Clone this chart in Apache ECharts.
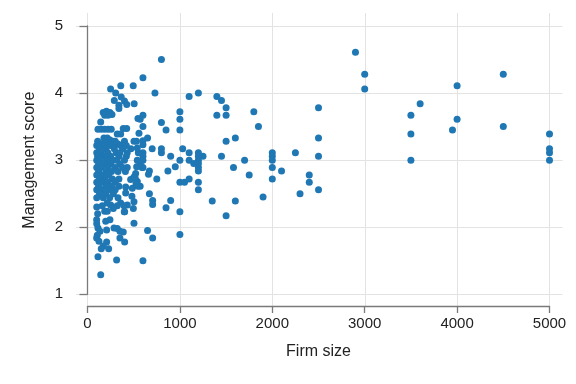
<!DOCTYPE html>
<html>
<head>
<meta charset="utf-8">
<script src="https://cdn.jsdelivr.net/npm/echarts@6/dist/echarts.min.js"></script>
<style>
html,body{margin:0;padding:0;background:#fff;}
#chart{width:576px;height:384px;}
</style>
</head>
<body>
<div id="chart"></div>
<script>
// Axis tick labels
const xTicks = [0, 1000, 2000, 3000, 4000, 5000];
const yTicks = [1, 2, 3, 4, 5];
const xTitle = 'Firm size';
const yTitle = 'Management score';

// Firm size / management score pairs
const sparsePoints = [
  [1350,2.39],[1400,3.95],[1450,3.89],[1500,3.78],[1400,3.67],[1500,3.67],[1500,3.28],[1600,3.33],
  [1450,3.06],[1580,2.89],[1600,2.39],[1500,2.17],[1700,3.0],[1800,3.72],[1850,3.5],[1750,2.78],
  [1900,2.45],[2000,3.11],[2000,3.06],[2000,3.0],[2000,2.89],[2000,2.72],[2100,2.84],[2250,3.11],
  [2300,2.5],[2400,2.78],[2400,2.67],[2500,3.78],[2500,3.33],[2500,3.06],[2500,2.56],[2900,4.61],
  [3000,4.28],[3000,4.06],[3500,3.67],[3500,3.39],[3500,3.0],[3600,3.84],[3950,3.45],[4000,4.11],
  [4000,3.61],[4500,4.28],[4500,3.5],[5000,3.39],[5000,3.17],[5000,3.11],[5000,3.0]
];
const middlePoints = [
  [800,4.5],[600,4.23],[730,4.0],[1100,3.95],[1200,4.0],[1000,3.72],[1000,3.61],[600,3.67],
  [570,3.61],[600,3.5],[800,3.56],[850,3.45],[1000,3.45],[650,3.33],[600,3.29],[600,3.23],
  [700,3.17],[800,3.17],[800,3.11],[600,3.11],[600,3.06],[900,3.06],[1030,3.17],[1100,3.11],
  [1200,3.11],[1250,3.06],[1000,3.0],[1100,3.0],[1200,3.06],[1150,2.95],[1200,3.0],[1200,2.95],
  [1200,2.89],[1200,2.84],[570,2.95],[600,2.89],[670,2.84],[660,2.79],[870,2.84],[950,2.9],
  [750,2.72],[1000,2.67],[1050,2.67],[1100,2.72],[1200,2.67],[1200,2.56],[570,2.61],[670,2.5],
  [705,2.4],[705,2.34],[900,2.4],[850,2.29],[1000,2.23],[650,1.95],[705,1.84],[1000,1.89],
  [600,1.5],[600,3.0],[590,2.89]
];
const upperLeftPoints = [
  [250,4.06],[360,4.11],[495,4.11],[305,4.0],[365,3.94],[290,3.89],[400,3.88],[340,3.82],
  [425,3.83],[505,3.84],[340,3.77],[170,3.71],[205,3.73],[243,3.71],[265,3.68],[186,3.67],
  [222,3.67],[546,3.62],[143,3.57],[113,3.46],[149,3.46],[186,3.46],[222,3.46],[257,3.46],
  [387,3.47],[424,3.47],[178,3.33],[214,3.33],[359,3.39],[322,3.39],[557,3.40],[530,3.28],
  [243,3.30],[279,3.28],[117,3.23],[150,3.24],[207,3.23],[262,3.23],[297,3.23],[330,3.24],
  [387,3.23],[470,3.17],[550,3.11],[503,3.28],[539,3.18],[539,3.0],[532,2.90],[521,2.80],
  [503,2.75],[539,2.68],[485,2.58],[413,2.60],[413,2.51],[359,2.36],[431,2.33],[251,2.33],
  [214,2.36],[546,2.61],[525,2.65],[467,2.71],[517,2.73],[503,2.38],[481,2.46],[398,2.23]
];
const clusterPoints = [
  [110,3.28],[190,3.28],[300,3.28],[400,3.28],
  [100,3.22],[170,3.22],[250,3.22],[360,3.22],[420,3.22],
  [130,3.17],[200,3.17],[290,3.17],[380,3.17],
  [100,3.11],[150,3.11],[220,3.11],[310,3.11],[350,3.11],[430,3.11],
  [110,3.06],[180,3.06],[250,3.06],[340,3.06],[420,3.06],
  [100,3.0],[140,3.0],[210,3.0],[280,3.0],[320,3.0],[400,3.0],
  [120,2.94],[190,2.94],[250,2.94],[350,2.94],
  [100,2.89],[150,2.89],[220,2.89],[300,2.89],[380,2.89],[430,2.89],
  [120,2.83],[200,2.83],[260,2.83],[330,2.83],[410,2.83],
  [100,2.78],[170,2.78],[230,2.78],
  [130,2.72],[190,2.72],[270,2.72],[340,2.72],
  [100,2.67],[160,2.67],[220,2.67],[300,2.67],
  [120,2.61],[200,2.61],[260,2.61],[340,2.61],
  [100,2.56],[160,2.56],[230,2.56],[300,2.56],
  [130,2.5],[200,2.5],[280,2.5],
  [100,2.44],[170,2.44],[240,2.44],[330,2.44]
];
const lowerLeftPoints = [
  [160,2.32],[322,2.32],[395,2.32],[186,2.24],[214,2.24],[279,2.28],[402,2.23],[496,2.28],
  [99,2.11],[197,2.09],[243,2.11],[503,2.06],[113,1.99],[135,1.94],[207,1.96],[287,1.99],
  [322,1.98],[351,1.94],[387,1.93],[106,1.88],[99,1.84],[124,1.79],[351,1.84],[402,1.78],
  [207,1.78],[171,1.72],[149,1.68],[229,1.68],[113,1.56],[315,1.51],[143,1.29],
  [100,2.30],[110,2.20],[100,2.05]
];

const allPoints = [].concat(sparsePoints, middlePoints, upperLeftPoints, clusterPoints, lowerLeftPoints);

const FONT = '"Liberation Sans", Arial, Helvetica, sans-serif';
const axisGray = '#7a7a7a';
const gridGray = '#e3e3e3';
const textColor = '#222222';
const plain = v => String(v);

const chart = echarts.init(document.getElementById('chart'), null, {renderer: 'canvas'});
chart.setOption({
  animation: false,
  backgroundColor: '#ffffff',
  grid: [
    {left: 76, right: 13.5, top: 13, bottom: 78, containLabel: false},
    {left: 87.5, right: 26.5, top: 26, bottom: 89.7, containLabel: false}
  ],
  xAxis: [
    {
      gridIndex: 0, type: 'value', min: -125, max: 5140, minInterval: 1000, maxInterval: 1000,
      axisLine: {show: false}, axisTick: {show: false}, axisLabel: {show: false},
      splitLine: {show: true, showMinLine: false, showMaxLine: false, lineStyle: {color: gridGray, width: 1}}
    },
    {
      gridIndex: 1, type: 'value', min: xTicks[0], max: xTicks[xTicks.length - 1], interval: 1000,
      offset: 11.7,
      name: xTitle, nameLocation: 'middle', nameGap: 38,
      nameTextStyle: {fontFamily: FONT, fontSize: 16, color: textColor},
      axisLine: {show: true, lineStyle: {color: axisGray, width: 1.3}},
      axisTick: {show: true, length: 7, lineStyle: {color: axisGray, width: 1.3}},
      axisLabel: {show: true, margin: 10, fontFamily: FONT, fontSize: 15, color: textColor, formatter: plain},
      splitLine: {show: false}
    }
  ],
  yAxis: [
    {
      gridIndex: 0, type: 'value', min: 0.826, max: 5.194, minInterval: 1, maxInterval: 1,
      axisLine: {show: false}, axisTick: {show: false}, axisLabel: {show: false},
      splitLine: {show: true, showMinLine: false, showMaxLine: false, lineStyle: {color: gridGray, width: 1}}
    },
    {
      gridIndex: 1, type: 'value', min: yTicks[0], max: yTicks[yTicks.length - 1], interval: 1,
      offset: 11.5,
      name: yTitle, nameLocation: 'middle', nameGap: 38, nameRotate: 90,
      nameTextStyle: {fontFamily: FONT, fontSize: 16, color: textColor},
      axisLine: {show: true, lineStyle: {color: axisGray, width: 1.3}},
      axisTick: {show: true, length: 8, lineStyle: {color: axisGray, width: 1.3}},
      axisLabel: {show: true, margin: 13, fontFamily: FONT, fontSize: 15, color: textColor, formatter: plain},
      splitLine: {show: false}
    }
  ],
  series: [{
    type: 'scatter',
    xAxisIndex: 1, yAxisIndex: 1,
    data: allPoints,
    symbol: 'circle',
    symbolSize: 7,
    clip: false,
    itemStyle: {color: '#1f77b4', opacity: 1},
    emphasis: {disabled: true}
  }]
});
</script>
</body>
</html>
